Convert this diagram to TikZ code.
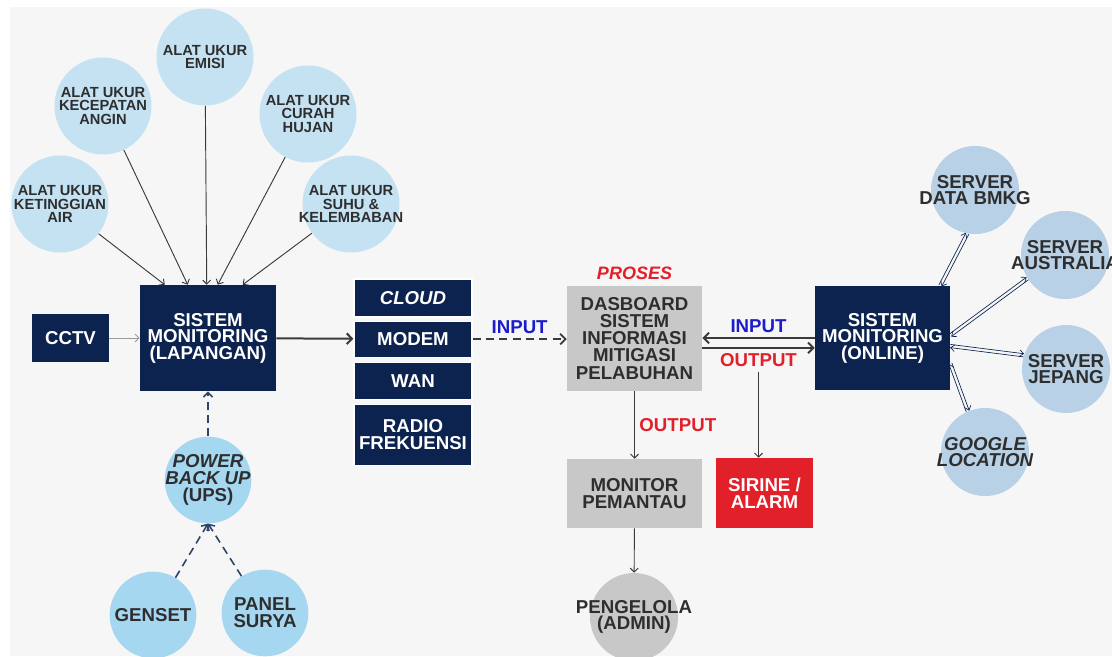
\documentclass[tikz,border=0pt]{standalone}
\usepackage{fontspec}
\setmainfont{Liberation Sans}
\usetikzlibrary{shapes,positioning,arrows.meta,calc}

\definecolor{navy}{HTML}{0C2350}
\definecolor{skyA}{HTML}{C5E2F3}
\definecolor{skyB}{HTML}{B8D1E6}
\definecolor{skyC}{HTML}{A6D7F1}
\definecolor{greyfill}{HTML}{C8C8C8}
\definecolor{alarmred}{HTML}{E2202A}
\definecolor{inblue}{HTML}{1C1CCC}
\definecolor{ink}{HTML}{2E2E2E}
\definecolor{wire}{HTML}{3A3A3A}
\definecolor{bgcol}{HTML}{F6F6F6}

\begin{document}
\begin{tikzpicture}[
		x=0.75pt, y=-0.75pt,
		navybox/.style={
			rectangle,
			fill=navy,
			text=white,
			align=center,
			inner sep=0pt,
			font=\fontsize{14}{12.4}\selectfont\bfseries
			},
		greybox/.style={
			rectangle,
			fill=greyfill,
			text=ink,
			align=center,
			inner sep=0pt,
			minimum width=101.25pt,
			font=\fontsize{14}{12.8}\selectfont\bfseries
			},
		netbox/.style={
			navybox,
			draw=white,
			line width=0.8pt,
			minimum width=88.5pt
			},
		sensor/.style={
			circle,
			fill=skyA,
			minimum size=72.75pt,
			inner sep=0pt
			},
		server/.style={
			circle,
			fill=skyB,
			minimum size=66pt,
			inner sep=0pt
			},
		power/.style={
			circle,
			fill=skyC,
			minimum size=65pt,
			inner sep=0pt
			},
		smalltxt/.style={
			align=center,
			text=ink,
			inner sep=0pt,
			font=\fontsize{11}{9.9}\selectfont\bfseries
			},
		bigtxt/.style={
			align=center,
			text=ink,
			inner sep=0pt,
			font=\fontsize{14}{12.6}\selectfont\bfseries
			},
		inlbl/.style={
			text=inblue,
			font=\fontsize{14}{14}\selectfont\bfseries
			},
		outlbl/.style={
			text=alarmred,
			font=\fontsize{14}{14}\selectfont\bfseries
			},
		feed/.style={
			draw=wire,
			line width=0.7pt,
			-{Straight Barb[length=3pt,width=6pt]}
			},
		mainfeed/.style={
			draw=wire,
			line width=1.5pt,
			-{Straight Barb[length=4pt,width=8pt]}
			},
		dashfeed/.style={
			draw=wire,
			line width=1.3pt,
			dash pattern=on 6pt off 4pt,
			-{Straight Barb[length=4pt,width=8pt]}
			},
		powerfeed/.style={
			draw=navy!85,
			line width=1.2pt,
			dash pattern=on 6pt off 4pt,
			-{Straight Barb[length=3.5pt,width=7pt]}
			},
		dual/.style={
			draw=navy,
			line width=0.5pt,
			-{Straight Barb[length=3pt,width=5pt]}
			}]
		\useasboundingbox (0,0) rectangle (1112,656);
		\fill[white] (0,0) rectangle (1112,656);
		\fill[bgcol] (10,7) rectangle (1112,656);

	    % Place nodes
	    \node [sensor, label={[smalltxt]center:{ALAT UKUR\\EMISI}}] (emisi) at (205,57) {};
	    \node [sensor, label={[smalltxt]center:{ALAT UKUR\\KECEPATAN\\ANGIN}}] (angin) at (103,106) {};
	    \node [sensor, label={[smalltxt]center:{ALAT UKUR\\CURAH\\HUJAN}}] (hujan) at (308,114) {};
	    \node [sensor, label={[smalltxt]center:{ALAT UKUR\\KETINGGIAN\\AIR}}] (air) at (60,204) {};
	    \node [sensor, label={[smalltxt]center:{ALAT UKUR\\SUHU \&\\KELEMBABAN}}] (suhu) at (351,204) {};

	    \node [navybox, minimum width=57.75pt, minimum height=36pt] (cctv) at (70.5,338) {CCTV};
	    \node [navybox, minimum width=102pt, minimum height=79.5pt] (lap) at (208,338) {SISTEM\\MONITORING\\(LAPANGAN)};

	    \node [netbox, minimum height=28.5pt, font=\fontsize{14}{11.9}\selectfont\bfseries\itshape] (cloud) at (413,298) {CLOUD};
	    \node [netbox, minimum height=27pt, below=2.25pt of cloud] (modem) {MODEM};
	    \node [netbox, minimum height=27.75pt, below=3pt of modem] (wan) {WAN};
	    \node [netbox, minimum height=45.75pt, below=3pt of wan] (radio) {RADIO\\FREKUENSI};

	    \node [greybox, minimum height=78.75pt] (dash) at (634.5,338.5) {DASBOARD\\SISTEM\\INFORMASI\\MITIGASI\\PELABUHAN};
	    \node [above=3pt of dash, inner sep=1pt, text=alarmred, font=\fontsize{13.5}{14}\selectfont\bfseries\itshape] (proses) {PROSES};
	    \node [greybox, minimum height=51.75pt] (monitor) at (634.5,493.5) {MONITOR\\PEMANTAU};
	    \node [greybox, fill=alarmred, text=white, minimum width=72.75pt, minimum height=52.5pt] (sirine) at (764.5,493) {SIRINE /\\ALARM};
	    \node [circle, fill=greyfill, minimum size=66pt, inner sep=0pt, label={[bigtxt]center:{PENGELOLA\\(ADMIN)}}] (admin) at (634,617) {};

	    \node [navybox, minimum width=101.25pt, minimum height=78pt] (online) at (882.5,338) {SISTEM\\MONITORING\\(ONLINE)};
	    \node [server, label={[bigtxt]center:{SERVER\\DATA BMKG}}] (bmkg) at (975,190) {};
	    \node [server, label={[bigtxt]center:{SERVER\\AUSTRALIA}}] (aus) at (1065,255) {};
	    \node [server, label={[bigtxt]center:{SERVER\\JEPANG}}] (jpn) at (1066,369) {};
	    \node [server, label={[bigtxt, font=\fontsize{14}{12.6}\selectfont\bfseries\itshape]center:{GOOGLE\\LOCATION}}] (goog) at (985,452) {};

	    \node [power, label={[bigtxt]center:{\textit{POWER}\\\textit{BACK UP}\\(UPS)}}] (ups) at (208,480) {};
	    \node [power, label={[bigtxt]center:{GENSET}}] (genset) at (153,615) {};
	    \node [power, label={[bigtxt]center:{PANEL\\SURYA}}] (surya) at (265,613) {};

	    % Draw edges
	    \path [feed] (air) -- ($(lap.north west)+(25,0)$);
	    \path [feed] (angin) -- ($(lap.north west)+(48,0)$);
	    \path [feed] (emisi) -- ($(lap.north west)+(67,0)$);
	    \path [feed] (hujan) -- ($(lap.north west)+(78,0)$);
	    \path [feed] (suhu) -- ($(lap.north west)+(103,0)$);
	    \path [feed, draw=gray!80] (cctv) -- (lap);
	    \path [mainfeed] (lap) -- (modem);
	    \path [dashfeed] (modem) -- node [above, inlbl] (in1) {INPUT} (modem -| dash.west);
	    \path [mainfeed] (online.west) -- node [above, inlbl] (in2) {INPUT} (online.west -| dash.east);
	    \path [mainfeed] ([yshift=-7pt]dash.east) -- node [below, outlbl] (out2) {OUTPUT} ([yshift=-7pt]dash.east -| online.west);
	    \path [feed] (out2.south) -- (out2.south |- sirine.north);
	    \path [feed] (dash) -- node [right, outlbl] (out1) {OUTPUT} (monitor);
	    \path [feed] (monitor) -- (admin);
	    \path [powerfeed] (ups) -- (lap);
	    \path [powerfeed] (genset) -- (ups.south);
	    \path [powerfeed] (surya) -- (ups.south);

	    % Two-way server links
	    \coordinate (o1) at ([xshift=-7.5pt]online.north east);
	    \coordinate (o2) at ([yshift=2pt]online.east);
	    \coordinate (o3) at ([yshift=-6pt]online.east);
	    \coordinate (o4) at ([yshift=-19pt]online.east);
	    \foreach \a/\b in {o1/bmkg.260, o2/aus.212, o3/jpn.162, o4/goog.113} {
	        \path [dual] ($(\a)!1.2pt!90:(\b)$) -- ($(\b)!1.2pt!-90:(\a)$);
	        \path [dual] ($(\b)!1.2pt!90:(\a)$) -- ($(\a)!1.2pt!-90:(\b)$);
	    }
	\end{tikzpicture}
\end{document}
